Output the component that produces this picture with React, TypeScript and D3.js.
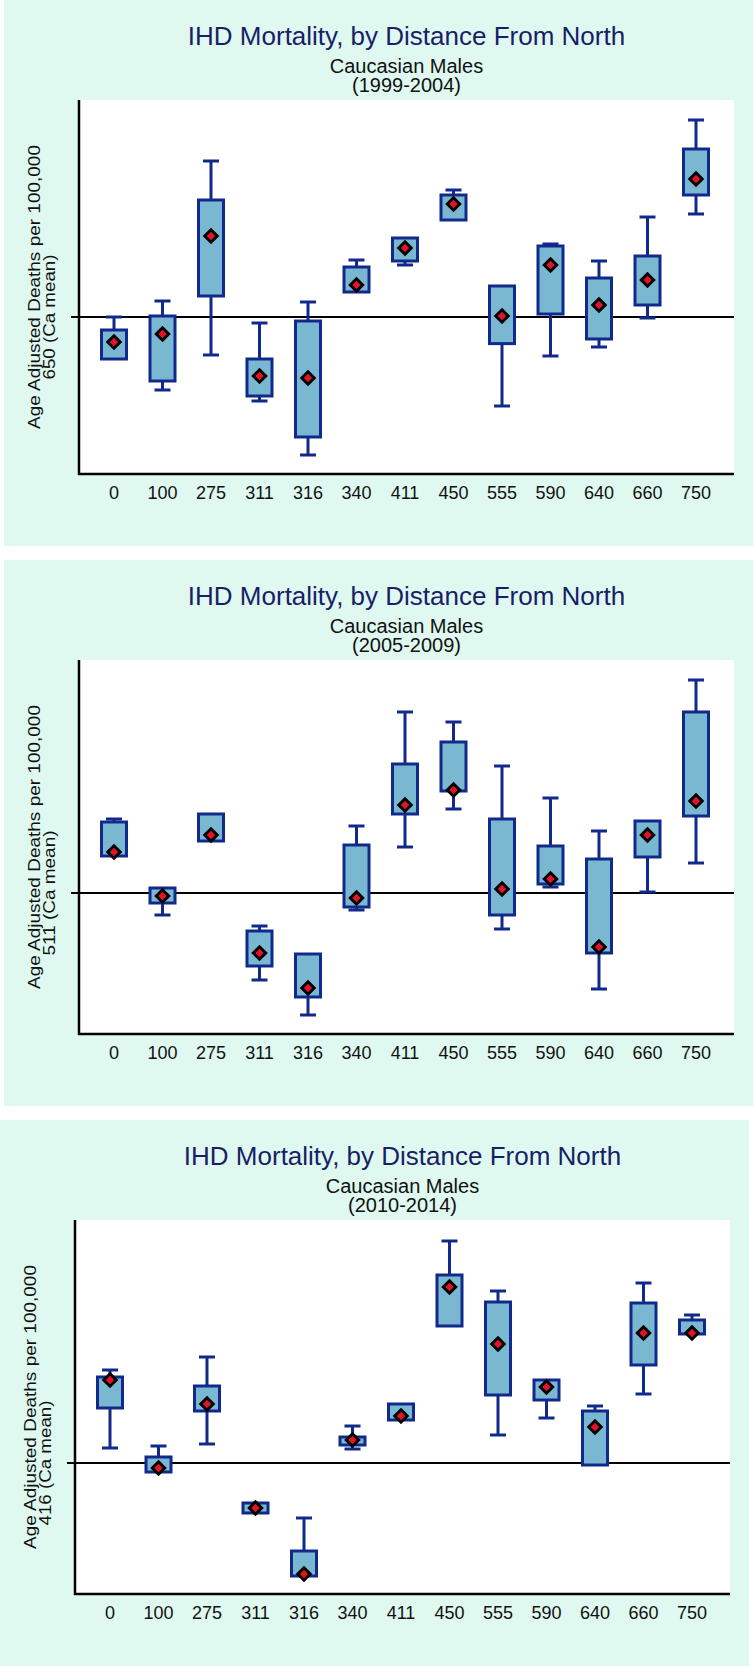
import React from "react";
import * as d3 from "d3";

const categories = ["0", "100", "275", "311", "316", "340", "411", "450", "555", "590", "640", "660", "750"];

const titles = ["IHD Mortality, by Distance From North", "IHD Mortality, by Distance From North", "IHD Mortality, by Distance From North"];
const subtitle = "Caucasian Males";
const periods = ["(1999-2004)", "(2005-2009)", "(2010-2014)"];
const refMeans = [650, 511, 416];
const yLabel = "Age Adjusted Deaths per 100,000";

// Panel 1 (1999-2004)
const p1Min = [629, 613.5, 631, 608, 581, 662.5, 676, 698.5, 605.5, 630.5, 635, 649.5, 701.5];
const p1Q1 = [629, 618, 660.5, 610.5, 590, 662.5, 678, 698.5, 636.7, 651.5, 639, 656, 711];
const p1Q3 = [643.5, 650.5, 708.5, 629, 648, 675, 689.5, 711, 665.5, 685.5, 669.5, 680.5, 734];
const p1Max = [650, 658, 728, 647, 657.5, 678.5, 689.5, 713.5, 665.5, 686.5, 678, 700, 748.5];
const p1Mean = [637.5, 641.5, 690.5, 620.5, 619.5, 666, 684.5, 706.5, 650.5, 676, 656, 668.5, 719];
const p1Domain = [571.5, 758.5];

// Panel 2 (2005-2009)
const p2Min = [529.5, 500, 537, 467.5, 450, 502.5, 534, 553, 493, 514, 463, 511.5, 526];
const p2Q1 = [529.5, 506, 537, 474.5, 459, 504, 550.5, 562, 500, 515.5, 481, 529, 549.5];
const p2Q3 = [546.5, 513.5, 550.5, 492, 480.5, 535, 575.5, 586.5, 548, 534.5, 528, 547, 601.5];
const p2Max = [548, 513.5, 550.5, 494.5, 480.5, 544.5, 601.5, 596.5, 574.5, 558.5, 542, 547, 617.5];
const p2Mean = [531.5, 509.5, 540, 481, 463.5, 508.5, 555, 562.5, 513, 518, 484, 540, 557];
const p2Domain = [440.5, 627.5];

// Panel 3 (2010-2014)
const p3Min = [423.5, 411.5, 425.5, 391, 359.5, 423, 437.5, 484.5, 430, 438.5, 415, 450.5, 480.5];
const p3Q1 = [443.5, 411.5, 442, 391, 359.5, 425, 437.5, 484.5, 450, 447.5, 415, 465, 480.5];
const p3Q3 = [459, 419, 454.5, 396, 372, 429, 445.5, 510, 496.5, 457.5, 442, 496, 487.5];
const p3Max = [462.5, 424.5, 469, 396, 388.5, 434.5, 445.5, 527, 502, 457.5, 444.5, 506, 490];
const p3Mean = [457.5, 413.5, 445.5, 393.5, 360.5, 427.5, 439.5, 504, 475.5, 454, 434, 481, 481];
const p3Domain = [350.5, 537.5];

const panelsData = [
  { min: p1Min, q1: p1Q1, q3: p1Q3, max: p1Max, mean: p1Mean, domain: p1Domain },
  { min: p2Min, q1: p2Q1, q3: p2Q3, max: p2Max, mean: p2Mean, domain: p2Domain },
  { min: p3Min, q1: p3Q1, q3: p3Q3, max: p3Max, mean: p3Mean, domain: p3Domain },
];

const W = 753;
const H = 1666;
const panelOffsets = [
  { x: 0, y: 0 },
  { x: 0, y: 560 },
  { x: -4, y: 1120 },
];
const PL = 79, PR = 734, PT = 100, PB = 474;
const FONT = "'Liberation Sans', Arial, Helvetica, sans-serif";
const MINT = "#dff9f0";
const BOX_FILL = "#7ab8d2";
const BOX_STROKE = "#12298c";
const TITLE_COLOR = "#1a1d68";

function Panel({ idx }: { idx: number }) {
  const d = panelsData[idx];
  const off = panelOffsets[idx];
  const x = d3.scalePoint<string>().domain(categories).range([PL + 35, PR - 38]);
  const y = d3.scaleLinear().domain(d.domain).range([PB, PT]);
  const refY = y(refMeans[idx]);
  const boxW = 25;
  const capW = 16;
  const dm = 6.2;
  const cx = (PL + PR) / 2;
  return (
    <g transform={`translate(${off.x},${off.y})`}>
      <rect x={4} y={0} width={749} height={546} fill={MINT} />
      <rect x={PL} y={PT} width={PR - PL} height={PB - PT} fill="#ffffff" />
      <text x={cx} y={45} textAnchor="middle" fontFamily={FONT} fontSize={26} fill={TITLE_COLOR}>
        {titles[idx]}
      </text>
      <text x={cx} y={73} textAnchor="middle" fontFamily={FONT} fontSize={20} fill="#111">
        {subtitle}
      </text>
      <text x={cx} y={92} textAnchor="middle" fontFamily={FONT} fontSize={20} fill="#111">
        {periods[idx]}
      </text>
      <text
        transform={`translate(39.5,${(PT + PB) / 2}) rotate(-90)`}
        textAnchor="middle"
        fontFamily={FONT}
        fontSize={16.5}
        fill="#111"
        textLength={284}
        lengthAdjust="spacingAndGlyphs"
      >
        {yLabel}
      </text>
      <text
        transform={`translate(55,${refY}) rotate(-90)`}
        textAnchor="middle"
        fontFamily={FONT}
        fontSize={16.5}
        fill="#111"
        textLength={125}
        lengthAdjust="spacingAndGlyphs"
      >
        {`${refMeans[idx]} (Ca mean)`}
      </text>
      <line x1={71} x2={PR} y1={refY} y2={refY} stroke="#000" strokeWidth={2.2} />
      {categories.map((c, i) => {
        const px = x(c) as number;
        const yMin = y(d.min[i]);
        const yQ1 = y(d.q1[i]);
        const yQ3 = y(d.q3[i]);
        const yMax = y(d.max[i]);
        const yMean = y(d.mean[i]);
        return (
          <g key={c}>
            {d.max[i] - d.q3[i] > 0.4 && (
              <g stroke={BOX_STROKE} strokeWidth={3}>
                <line x1={px} x2={px} y1={yQ3} y2={yMax} />
                <line x1={px - capW / 2} x2={px + capW / 2} y1={yMax} y2={yMax} />
              </g>
            )}
            {d.q1[i] - d.min[i] > 0.4 && (
              <g stroke={BOX_STROKE} strokeWidth={3}>
                <line x1={px} x2={px} y1={yQ1} y2={yMin} />
                <line x1={px - capW / 2} x2={px + capW / 2} y1={yMin} y2={yMin} />
              </g>
            )}
            <rect
              x={px - boxW / 2}
              y={yQ3}
              width={boxW}
              height={Math.max(yQ1 - yQ3, 1)}
              fill={BOX_FILL}
              stroke={BOX_STROKE}
              strokeWidth={3}
            />
            <polygon
              points={`${px},${yMean - dm} ${px + dm},${yMean} ${px},${yMean + dm} ${px - dm},${yMean}`}
              fill="#e8112d"
              stroke="#000"
              strokeWidth={3}
              strokeLinejoin="miter"
            />
          </g>
        );
      })}
      <line x1={PL} x2={PL} y1={PT} y2={PB + 1} stroke="#000" strokeWidth={2.5} />
      <line x1={PL - 1} x2={PR} y1={PB} y2={PB} stroke="#000" strokeWidth={2.5} />
      {categories.map((c) => (
        <text
          key={"t" + c}
          x={x(c) as number}
          y={499}
          textAnchor="middle"
          fontFamily={FONT}
          fontSize={18}
          fill="#111"
        >
          {c}
        </text>
      ))}
    </g>
  );
}

export default function App() {
  return (
    <svg
      width={W}
      height={H}
      viewBox={`0 0 ${W} ${H}`}
      style={{ position: "absolute", left: 0, top: 0, background: "#ffffff" }}
    >
      <rect x={0} y={0} width={W} height={H} fill="#ffffff" />
      {[0, 1, 2].map((i) => (
        <Panel key={i} idx={i} />
      ))}
    </svg>
  );
}
